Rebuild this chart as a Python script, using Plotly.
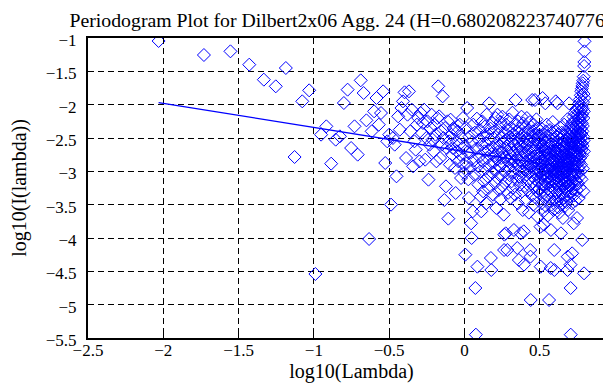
import numpy as np
import plotly.graph_objects as go

# ---------------- data ----------------
N_SAMPLES = 675                 # Fourier frequencies lambda_k = 2*pi*k/N
H_EST = 0.680208223740776       # Hurst estimate shown in the title
FIT_INTERCEPT = -2.702          # intercept of the fitted line (log10 scale)

# log10(I(lambda_k)) for k = 1, 2, ...
log_I_low = [
    -1.045, -1.255, -1.20, -1.40, -1.625, -1.725, -1.45, -2.785, -1.95, -1.785,
    -4.54, -2.45, -2.325, -2.885, -2.525, -2.475, -1.975, -1.775, -2.65, -2.325,
    -2.75, -1.635, -1.825, -2.235, -4.015, -2.40, -2.10, -1.90, -2.30, -2.125,
    -1.80, -2.875, -2.55, -2.45, -3.50, -2.50, -2.60, -3.075, -2.175, -2.375,
    -2.05, -1.95, -1.815, -2.80, -2.15, -1.80, -2.40, -2.075, -2.925, -2.55,
    -2.675, -2.30, -2.20, -2.85, -2.125, -2.425, -2.275, -2.075, -2.825, -2.50,
    -2.25, -3.125, -2.60, -2.35, -2.15, -2.525, -2.70, -2.30, -2.45, -2.85,
    -2.20, -1.725, -2.175, -2.80, -2.40, -2.60, -1.875, -2.50, -3.43, -2.35,
    -3.225, -2.65, -2.25, -3.71, -2.55, -2.90, -2.225, -2.45, -2.75, -2.65,
    -2.35, -2.375, -2.95, -3.325, -2.55, -2.70, -2.40, -2.85, -2.60, -2.30,
    -2.75, -3.10, -2.50, -2.65, -2.20, -2.90, -3.025,
]
log_I_band_a = [
    -2.62, -4.25, -2.35, -2.88, -2.05, -2.71, -3.12, -3.40, -2.48, -2.95,
    -2.72, -3.78, -4.00, -2.56, -3.60, -2.30, -2.84, -3.05, -2.42, -4.75,
    -5.45, -2.66, -2.21, -4.43, -2.92, -3.20, -2.53, -2.78, -2.38, -3.00,
    -3.38, -3.60, -2.60, -2.25, -2.85, -3.30, -2.47, -3.15, -2.70, -2.33,
    -2.96, -2.58, -3.48, -2.15, -2.80, -2.44, -3.08, -2.68, -3.25, -1.98,
    -2.52, -2.90, -2.36, -4.30, -4.48, -2.74, -3.02, -2.28, -2.64, -3.35,
    -2.50, -2.86, -2.40, -3.18, -2.76, -2.20, -2.98, -3.55, -2.58, -2.82,
    -2.15, -3.10, -2.45, -2.70, -3.28, -2.34, -2.92, -2.62, -3.42, -2.26,
    -2.80, -3.05, -2.50, -2.72, -2.18, -3.22, -2.88, -2.56, -3.65, -4.18,
    -3.95, -2.42, -2.78, -3.00, -3.93, -2.30, -2.66, -3.14, -2.52, -4.18,
    -2.84, -2.38, -3.32, -2.60, -2.94, -2.22, -2.74,
]
log_I_band_b = [
    -3.06, -2.48, -2.82, -3.40, -2.35, -2.68, -3.15, -2.55, -2.90, -2.12,
    -3.25, -2.72, -2.44, -3.02, -3.88, -2.60, -2.85, -2.30, -3.35, -2.76,
    -1.93, -2.96, -2.52, -3.12, -2.40, -2.80, -4.15, -2.66, -3.48, -2.25,
    -2.92, -2.58, -4.33, -3.08, -2.70, -2.36, -3.20, -2.84, -2.50, -3.93,
    -2.62, -3.00, -2.18, -2.78, -3.30, -2.46, -2.88, -3.58, -2.56, -2.28,
    -3.10, -3.90, -4.40, -2.72, -2.42, -2.98, -3.22, -2.64, -2.34, -2.86,
    -3.44, -2.52, -2.76, -3.05, -2.20, -2.94, -2.60, -3.28, -2.44, -2.82,
    -3.14, -2.68, -2.38, -3.62, -2.90, -2.54, -3.02, -2.74, -2.26, -4.18,
    -4.28, -4.93, -2.80, -3.18, -2.48, -2.92, -3.36, -2.58, -1.93, -2.70,
    -3.08, -2.40, -2.86, -3.50, -2.64, -2.30, -3.00, -2.78, -3.24, -2.52,
    -2.96, -1.93, -2.66, -3.12, -2.44, -2.84, -3.40, -2.60, -2.22, -3.04,
    -2.74, -3.30, -2.50, -2.88, -3.68, -2.56, -2.36, -3.16, -2.80, -2.98,
    -2.46, -3.26, -2.70,
]
log_I_band_c = [
    -3.02, -2.58, -2.90, -3.34, -2.46, -2.78, -3.83, -4.43, -3.10, -2.64,
    -2.96, -3.48, -2.36, -2.84, -3.20, -2.70, -3.06, -1.90, -2.52, -3.28,
    -2.88, -3.60, -2.62, -2.98, -3.80, -2.44, -3.14, -2.76, -3.40, -2.56,
    -2.92, -3.22, -1.98, -2.68, -3.04, -3.52, -2.40, -2.86, -3.18, -2.72,
    -3.00, -2.30, -3.36, -2.80, -3.10, -2.54, -2.94, -3.66, -2.66, -3.26,
    -2.48, -2.90, -3.08, -2.74, -4.93, -3.44, -2.60, -2.96, -3.16, -2.38,
    -2.82, -3.30, -2.70, -3.02, -4.45, -3.88, -2.58, -3.12, -2.88, -3.50,
    -2.46, -2.78, -3.24, -2.64, -3.06, -2.92, -3.38, -2.26, -2.84, -3.20,
    -2.72, -3.00, -3.58, -2.52, -2.94, -3.14, -4.18, -4.48, -2.68, -3.04,
    -2.86, -3.42, -2.40, -2.76, -3.28, -2.98, -1.95, -2.62, -3.10, -2.84,
    -3.46, -2.56, -2.90, -3.18, -2.70, -3.32, -2.48, -3.02, -1.98, -2.80,
    -3.22, -2.66, -3.54, -2.92, -3.08, -2.44, -2.86, -3.36, -2.74, -3.00,
    -3.62, -2.58, -2.96, -3.16, -2.34, -2.82, -3.26, -2.68, -3.06, -2.90,
    -3.44, -2.52, -3.93, -2.78, -3.12, -2.60, -3.00, -3.50, -2.42, -2.88,
    -3.20, -2.72, -3.34, -2.94, -2.56, -3.04, -3.70, -2.64, -2.84, -3.14,
    -2.46, -3.28, -2.76, -2.98, -3.40, -2.62, -2.30, -3.08, -2.86, -3.18,
    -2.54, -3.52, -2.80, -2.92, -3.24, -2.68, -3.02, -2.40, -3.36, -2.74,
    -2.96, -3.12, -2.58, -3.46, -2.82, -3.06, -2.50, -2.90, -3.30, -2.66,
    -3.00, -2.22, -4.48, -4.28, -2.78, -3.16, -2.88, -3.58, -2.60, -2.94,
    -3.20, -2.44, -2.84, -3.10, -2.70, -1.98, -3.04,
]
log_I_band_d = [
    -2.62, -3.22, -2.80, -2.48, -3.38, -2.70, -2.96, -2.36, -3.12, -4.40,
    -4.75, -5.45, -2.58, -2.88, -3.30, -2.44, -2.76, -3.04, -2.30, -2.66,
    -3.48, -2.52, -2.90, -4.23, -2.72, -3.16, -2.40, -2.84, -3.00, -2.26,
    -2.64, -3.26, -2.56, -2.94, -2.18, -2.78, -3.10, -3.78, -2.46, -2.70,
    -3.36, -2.34, -2.86, -2.60, -3.06, -2.12, -2.74, -2.50, -3.20, -2.92,
    -2.38, -2.68, -3.44, -2.24, -2.82, -2.56, -3.00, -2.44, -2.76, -3.14,
    -2.08, -2.62, -2.90, -2.32, -3.28, -2.70, -3.70, -2.48, -2.84, -2.16,
    -2.58, -3.02, -2.40, -2.78, -2.26, -3.18, -2.66, -2.04, -2.52, -2.94,
    -2.34, -2.72, -3.40, -2.20, -2.60, -2.86, -1.98, -2.46, -3.08, -2.30,
    -2.74, -2.12, -2.56, -3.24, -1.92, -2.42, -2.80, -2.24, -2.64, -3.00,
    -2.08, -2.50, -1.86, -2.36, -2.90, -2.18, -2.68, -1.80, -2.44, -3.12,
    -2.02, -2.58, -1.76, -2.28, -2.76, -2.14, -4.03, -1.72, -2.40, -2.06,
    -2.62, -1.68, -2.32, -2.96, -1.96, -2.48, -1.64, -2.20, -3.30, -1.84,
    -2.54, -1.58, -2.10, -2.70, -4.53, -1.42, -1.90, -1.36, -1.20, -1.05,
]
log_I = log_I_low + log_I_band_a + log_I_band_b + log_I_band_c + log_I_band_d

x_tick_vals = [-2.5, -2, -1.5, -1, -0.5, 0, 0.5, 1]
x_tick_text = ["\u22122.5", "\u22122", "\u22121.5", "\u22121", "\u22120.5", "0", "0.5", "1"]
y_tick_vals = [-5.5, -5, -4.5, -4, -3.5, -3, -2.5, -2, -1.5, -1]
y_tick_text = ["\u22125.5", "\u22125", "\u22124.5", "\u22124", "\u22123.5",
               "\u22123", "\u22122.5", "\u22122", "\u22121.5", "\u22121"]

TITLE = "Periodogram Plot for Dilbert2x06 Agg. 24 (H=0.680208223740776)"

# ---------------- derived ----------------
k = np.arange(1, len(log_I) + 1)
log_lambda = np.log10(2 * np.pi * k / N_SAMPLES)
slope = 1 - 2 * H_EST
fit_x = [float(log_lambda[0]), float(log_lambda[-1])]
fit_y = [FIT_INTERCEPT + slope * v for v in fit_x]

FONT = "Liberation Serif"
BLUE = "#0000ff"

fig = go.Figure()
fig.add_trace(go.Scatter(
    x=log_lambda, y=log_I, mode="markers",
    marker=dict(symbol="diamond-open", size=10, color=BLUE, line=dict(width=1, color=BLUE)),
    showlegend=False, hoverinfo="skip",
))
fig.add_trace(go.Scatter(
    x=fit_x, y=fit_y, mode="lines",
    line=dict(color=BLUE, width=1.3),
    showlegend=False, hoverinfo="skip",
))

axis_common = dict(
    showline=True, linecolor="black", linewidth=2, mirror="ticks",
    ticks="inside", ticklen=6, tickwidth=1, tickcolor="black",
    showgrid=True, gridcolor="black", gridwidth=1, griddash="6px,4px",
    zeroline=False, tickfont=dict(family=FONT, size=17, color="black"),
)

fig.update_xaxes(
    range=[-2.5, 1], tickvals=x_tick_vals, ticktext=x_tick_text,
    ticklabelstandoff=-4,
    title=dict(text="log10(Lambda)", font=dict(family=FONT, size=20, color="black"), standoff=3),
    **axis_common,
)
fig.update_yaxes(
    range=[-5.5, -1], tickvals=y_tick_vals, ticktext=y_tick_text,
    ticklabelstandoff=6, ticklabelshift=2,
    title=dict(text="log10(I(lambda))", font=dict(family=FONT, size=20, color="black"), standoff=19),
    **axis_common,
)

fig.update_layout(
    width=611, height=385,
    margin=dict(l=80, r=4, t=30, b=55, autoexpand=False),
    paper_bgcolor="white", plot_bgcolor="white",
    title=dict(text=TITLE, x=0.479, xref="paper", xanchor="center",
               y=1 - 12 / 385, yref="container", yanchor="middle",
               font=dict(family=FONT, size=19.8, color="black")),
    font=dict(family=FONT, color="black"),
)

fig.write_html("out.html", config={"displayModeBar": False})
